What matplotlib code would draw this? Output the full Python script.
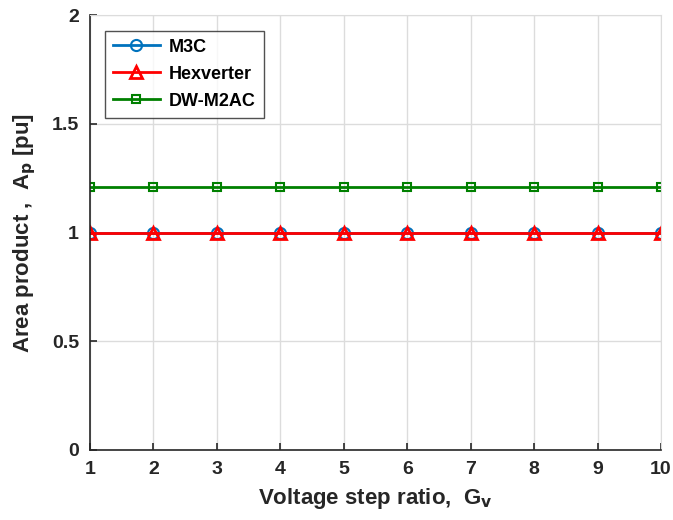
import matplotlib
matplotlib.use("Agg")
import matplotlib.pyplot as plt
import numpy as np

plt.rcParams['font.family'] = ['Liberation Sans Narrow', 'Liberation Sans', 'DejaVu Sans']
plt.rcParams['font.weight'] = 'bold'

gv = [1, 2, 3, 4, 5, 6, 7, 8, 9, 10]
m3c = [1.0] * 10
hexverter = [1.0] * 10
dw_m2ac = [1.21] * 10
xticks = [1, 2, 3, 4, 5, 6, 7, 8, 9, 10]
yticks = [0, 0.5, 1, 1.5, 2]

fig = plt.figure(figsize=(6.73, 5.2), dpi=100)
ax = fig.add_axes([90/673, 1-450/520, (661-90)/673, (450-15)/520])

ax.plot(gv, m3c, color='#0072BD', marker='o', markersize=8, markerfacecolor='none',
        markeredgewidth=1.5, linewidth=2, label='M3C')
ax.plot(gv, hexverter, color='#FF0000', marker='^', markersize=9, markerfacecolor='none',
        markeredgewidth=2, linewidth=2, label='Hexverter')
ax.plot(gv, dw_m2ac, color='#008000', marker='s', markersize=6, markerfacecolor='none',
        markeredgewidth=1.5, linewidth=2, label='DW-M2AC')

ax.set_xlim(1, 10)
ax.set_ylim(0, 2)
ax.set_xticks(xticks)
ax.set_yticks(yticks)
ax.set_yticklabels(['0', '0.5', '1', '1.5', '2'])
ax.grid(True, color='#dcdcdc', linewidth=1)
ax.set_axisbelow(True)
for s in ['top', 'right']:
    ax.spines[s].set_color('#dcdcdc')
for s in ['left', 'bottom']:
    ax.spines[s].set_color('#262626')
    ax.spines[s].set_linewidth(1.2)
ax.tick_params(direction='in', length=5, width=1.2, colors='#262626', labelsize=14, pad=8)
ax.tick_params(top=False, right=False)
for lbl in ax.get_xticklabels() + ax.get_yticklabels():
    lbl.set_fontweight('bold')

ax.set_xlabel('Voltage step ratio,  G$_\\mathbf{v}$', fontsize=16, fontweight='bold', color='#262626', labelpad=6)
ax.set_ylabel('Area product ,  A$_\\mathbf{p}$ [pu]', fontsize=16, fontweight='bold', color='#262626', labelpad=10)

leg = ax.legend(loc='upper left', bbox_to_anchor=(0.01, 0.985), fontsize=13, frameon=True,
                fancybox=False, edgecolor='#262626', handlelength=2.6, handletextpad=0.5,
                borderpad=0.45, labelspacing=0.55)
leg.get_frame().set_linewidth(1)
for t in leg.get_texts():
    t.set_fontweight('bold')

fig.savefig('out.png', dpi=100)
